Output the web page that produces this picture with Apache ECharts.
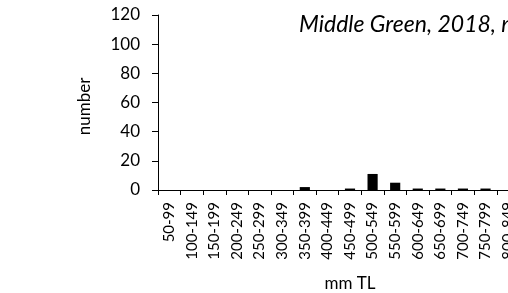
<!DOCTYPE html>
<html>
<head>
<meta charset="utf-8">
<script src="https://cdn.jsdelivr.net/npm/echarts@6/dist/echarts.min.js"></script>
<style>html,body{margin:0;padding:0;background:#fff;}#c{width:508px;height:293px;}</style>
</head>
<body>
<div id="c"></div>
<script>
const categories = ["50-99","100-149","150-199","200-249","250-299","300-349","350-399","400-449","450-499","500-549","550-599","600-649","650-699","700-749","750-799","800-849","850-899"];
const counts = [0,0,0,0,0,0,2,0,1,11,5,1,1,1,1,0,0];
const yTicks = {min:0, max:120, interval:20};
const titleText = "Middle Green, 2018, n=23";
const FONT = "Lato";
const chart = echarts.init(document.getElementById('c'), null, {renderer:'canvas'});
chart.setOption({
  animation:false,
  backgroundColor:'#fff',
  title:{text:titleText, left:294, top:8, textStyle:{fontFamily:FONT, fontStyle:'italic', fontWeight:'normal', fontSize:23, color:'#000'}},
  grid:{left:158, top:15, width:384, height:175, containLabel:false, outerBoundsMode:'none'},
  xAxis:{type:'category', data:categories, name:'mm TL', nameLocation:'middle', nameGap:85,
    nameTextStyle:{fontFamily:FONT, fontSize:17, color:'#000'},
    axisLine:{lineStyle:{color:'#000', width:1}},
    axisTick:{show:true, alignWithLabel:false, length:5, lineStyle:{color:'#000'}},
    axisLabel:{rotate:90, interval:0, fontFamily:FONT, fontSize:15, color:'#000', margin:12},
    splitLine:{show:false}},
  yAxis:{type:'value', min:yTicks.min, max:yTicks.max, interval:yTicks.interval, name:'number', nameLocation:'middle', nameGap:65,
    nameTextStyle:{fontFamily:FONT, fontSize:17, color:'#000', padding:[0,8,0,0]},
    axisLine:{show:true, lineStyle:{color:'#000', width:1}},
    axisTick:{show:true, length:6, lineStyle:{color:'#000'}},
    axisLabel:{fontFamily:FONT, fontSize:17, color:'#000', margin:18},
    splitLine:{show:false}},
  series:[{type:'bar', data:counts, barWidth:'45%', itemStyle:{color:'#000'}}]
});
</script>
</body>
</html>
